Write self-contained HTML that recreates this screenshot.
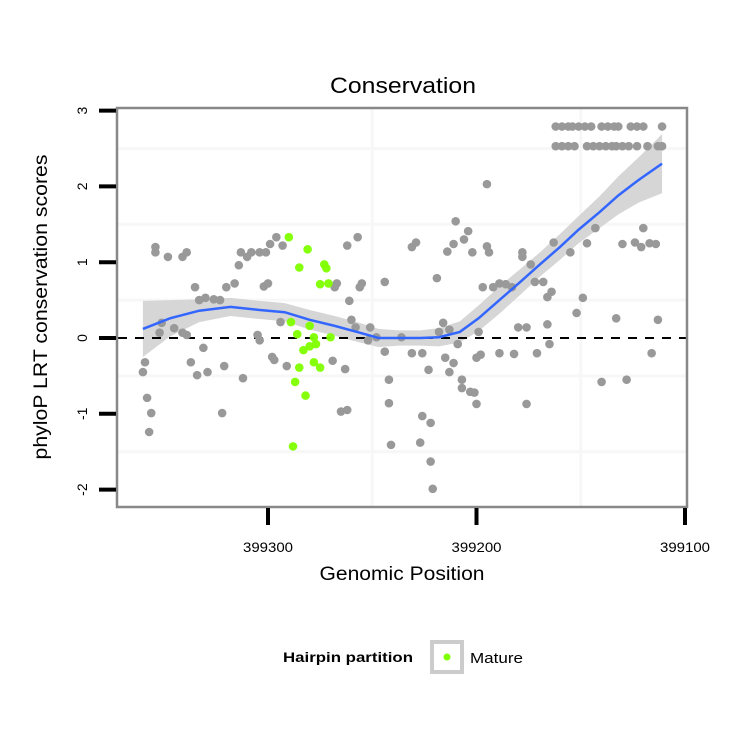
<!DOCTYPE html>
<html><head><meta charset="utf-8"><style>
body{margin:0;background:#fff;}
svg text{font-family:"Liberation Sans",sans-serif;}
</style></head><body>
<svg id="chart" width="750" height="750" viewBox="0 0 750 750" xmlns="http://www.w3.org/2000/svg">
<rect width="750" height="750" fill="#fff"/>
<text x="403" y="93" font-size="22" text-anchor="middle" textLength="146" lengthAdjust="spacingAndGlyphs">Conservation</text>
<g id="grid"></g>
<g id="ribbon"></g>
<line id="zero" stroke="#000" stroke-width="2" stroke-dasharray="9,8"/>
<g id="points"></g>
<g id="smooth"></g>
<rect x="117" y="108" width="570" height="399" fill="none" stroke="#888" stroke-width="2.5"/>
<g id="axes"></g>
<text x="402" y="580" font-size="19" text-anchor="middle" textLength="165" lengthAdjust="spacingAndGlyphs">Genomic Position</text>
<text transform="translate(47,307) rotate(-90)" font-size="19" text-anchor="middle" textLength="305" lengthAdjust="spacingAndGlyphs">phyloP LRT conservation scores</text>
<g>
<text x="283" y="662" font-size="14" font-weight="bold" textLength="130" lengthAdjust="spacingAndGlyphs">Hairpin partition</text>
<rect x="432" y="642" width="30" height="30" fill="#fff" stroke="#ccc" stroke-width="4"/>
<circle cx="447" cy="657" r="3.5" fill="#7fff00"/>
<text x="470" y="663" font-size="15" textLength="53" lengthAdjust="spacingAndGlyphs">Mature</text>
</g>
</svg>
<script>
const grayPoints=[[399354,1.20],[399354,1.13],[399348,1.07],[399341,1.07],[399339,1.13],[399335,0.67],[399333,0.50],[399330,0.53],[399326,0.51],[399323,0.50],[399314,0.96],[399313,1.13],[399310,1.07],[399308,1.13],[399304,1.13],[399301,1.13],[399299,1.24],[399296,1.33],[399293,1.22],[399320,0.67],[399316,0.72],[399302,0.68],[399300,0.72],[399262,1.22],[399257,1.33],[399267,0.72],[399268,0.67],[399255,0.72],[399256,0.67],[399244,0.74],[399261,0.49],[399351,0.20],[399352,0.07],[399345,0.13],[399341,0.07],[399339,0.04],[399294,0.21],[399305,0.04],[399304,-0.03],[399260,0.24],[399258,0.14],[399251,0.14],[399252,-0.03],[399248,0.01],[399236,0.01],[399359,-0.32],[399360,-0.45],[399331,-0.13],[399337,-0.32],[399334,-0.49],[399329,-0.45],[399321,-0.37],[399312,-0.53],[399298,-0.25],[399297,-0.29],[399291,-0.37],[399269,-0.30],[399263,-0.41],[399244,-0.18],[399242,-0.55],[399358,-0.79],[399356,-0.99],[399357,-1.24],[399322,-0.99],[399265,-0.97],[399262,-0.95],[399242,-0.86],[399241,-1.41],
[399162,2.79],[399159,2.79],[399156,2.79],[399154,2.79],[399151,2.79],[399148,2.79],[399145,2.79],[399140,2.79],[399137,2.79],[399134,2.79],[399132,2.79],[399126,2.79],[399123,2.79],[399120,2.79],[399111,2.79],
[399162,2.53],[399159,2.53],[399156,2.53],[399153,2.53],[399147,2.53],[399144,2.53],[399141,2.53],[399138,2.53],[399135,2.53],[399133,2.53],[399130,2.53],[399127,2.53],[399123,2.53],[399118,2.53],[399113,2.53],[399111,2.53],
[399195,2.03],[399210,1.54],[399204,1.41],[399206,1.30],[399211,1.24],[399214,1.14],[399202,1.13],[399195,1.21],[399194,1.13],[399231,1.20],[399229,1.26],[399219,0.79],[399178,1.13],[399178,1.07],[399174,0.97],[399163,1.26],[399155,1.13],[399147,1.25],[399143,1.45],[399120,1.45],[399130,1.24],[399124,1.26],[399121,1.20],[399117,1.25],[399114,1.24],
[399197,0.67],[399192,0.67],[399189,0.72],[399186,0.71],[399183,0.67],[399172,0.74],[399168,0.74],[399166,0.54],[399164,0.61],[399149,0.53],[399152,0.33],[399133,0.26],[399113,0.24],[399166,0.18],[399180,0.14],[399176,0.14],[399216,0.20],[399218,0.08],[399213,0.11],[399199,0.08],
[399231,-0.20],[399226,-0.20],[399209,-0.08],[399215,-0.26],[399211,-0.33],[399223,-0.42],[399213,-0.45],[399200,-0.26],[399198,-0.22],[399189,-0.20],[399182,-0.21],[399171,-0.20],[399165,-0.08],[399116,-0.20],[399207,-0.55],[399207,-0.66],[399203,-0.71],[399201,-0.72],[399200,-0.87],[399176,-0.87],[399140,-0.58],[399128,-0.55],[399226,-1.03],[399222,-1.12],[399227,-1.38],[399222,-1.63],[399221,-1.99]];
const maturePoints=[[399290,1.33],[399281,1.17],[399285,0.93],[399273,0.97],[399272,0.92],[399275,0.71],[399271,0.72],[399289,0.21],[399280,0.16],[399286,0.05],[399278,0.01],[399270,0.01],[399280,-0.11],[399277,-0.08],[399283,-0.16],[399278,-0.32],[399275,-0.39],[399285,-0.39],[399287,-0.58],[399282,-0.76],[399288,-1.43]];
const smoothX=[399360,399347,399333,399318,399304,399292,399280,399268,399256,399247,399237,399227,399218,399208,399199,399189,399179,399170,399160,399151,399141,399132,399122,399111];
const smoothY=[0.12,0.26,0.36,0.41,0.37,0.34,0.24,0.16,0.07,0,0,0,0.01,0.08,0.26,0.50,0.74,0.96,1.20,1.43,1.66,1.88,2.09,2.30];
const smoothSE=[0.37,0.24,0.15,0.12,0.12,0.12,0.13,0.13,0.13,0.12,0.10,0.10,0.12,0.14,0.17,0.18,0.17,0.16,0.17,0.18,0.21,0.25,0.30,0.39];
const xTicks=[399300,399200,399100];
const yTicks=[3,2,1,0,-1,-2];
const xMinor=[399250,399150];
const yMinor=[2.5,1.5,0.5,-0.5,-1.5];

const NS='http://www.w3.org/2000/svg';
function X(v){return 268+(399300-v)*2.085;}
function Y(v){return 338-v*75.8;}
function mk(tag,attrs,parent){const e=document.createElementNS(NS,tag);for(const k in attrs)e.setAttribute(k,attrs[k]);parent.appendChild(e);return e;}
const grid=document.getElementById('grid');
xMinor.forEach(v=>{const l=mk('line',{x1:X(v),x2:X(v),y1:109,y2:506,stroke:'#f7f7f7','stroke-width':3},grid);

});
yMinor.forEach(v=>{const l=mk('line',{x1:118,x2:686,y1:Y(v),y2:Y(v),stroke:'#f7f7f7','stroke-width':3},grid);

});
const z=document.getElementById('zero');
z.setAttribute('x1',118);z.setAttribute('x2',686);z.setAttribute('y1',Y(0));z.setAttribute('y2',Y(0));
let up=[],lo=[];
smoothX.forEach((v,i)=>{up.push(X(v)+','+Y(smoothY[i]+smoothSE[i]));lo.unshift(X(v)+','+Y(smoothY[i]-smoothSE[i]));});
const rib=mk('polygon',{points:up.concat(lo).join(' '),fill:'#d6d6d6'},document.getElementById('ribbon'));


const pts=document.getElementById('points');
grayPoints.forEach(p=>{const c=mk('circle',{cx:X(p[0]),cy:Y(p[1]),r:4.3,fill:'#999'},pts);

});
maturePoints.forEach(p=>{const c=mk('circle',{cx:X(p[0]),cy:Y(p[1]),r:4.3,fill:'#7fff00',opacity:0.95},pts);

});
const sl=mk('polyline',{points:smoothX.map((v,i)=>X(v)+','+Y(smoothY[i])).join(' '),fill:'none',stroke:'#3366ff','stroke-width':2.5},document.getElementById('smooth'));


const ax=document.getElementById('axes');
yTicks.forEach(v=>{const t=mk('line',{x1:99,x2:116,y1:Y(v),y2:Y(v),stroke:'#000','stroke-width':4},ax);


const tx=mk('text',{transform:'translate(87,'+Y(v)+') rotate(-90)','font-size':14,'text-anchor':'middle'},ax);
tx.textContent=String(v);

});
xTicks.forEach(v=>{const t=mk('line',{x1:X(v),x2:X(v),y1:508,y2:525,stroke:'#000','stroke-width':4},ax);


const tx=mk('text',{x:X(v),y:552,'font-size':14,'text-anchor':'middle',textLength:50,lengthAdjust:'spacingAndGlyphs'},ax);
tx.textContent=String(v);

});
</script>
</body></html>
